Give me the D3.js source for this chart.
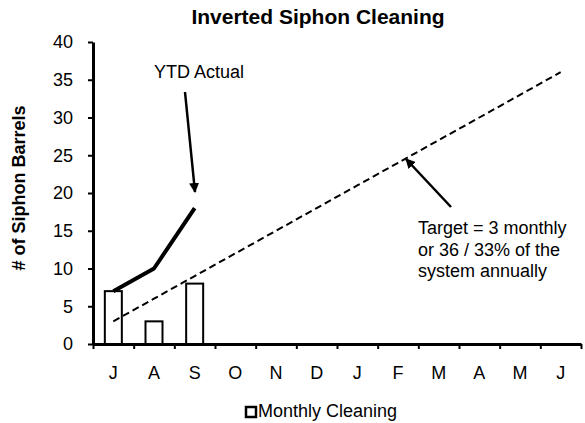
<!DOCTYPE html>
<html>
<head>
<meta charset="utf-8">
<script src="https://cdn.jsdelivr.net/npm/d3@7"></script>
<style>
  body { margin: 0; background: #fff; }
  svg text { font-family: Arial, "Liberation Sans", sans-serif; fill: #000; }
</style>
</head>
<body>
<svg class="chart" width="585" height="423"></svg>
<script>
var months = ["J", "A", "S", "O", "N", "D", "J", "F", "M", "A", "M", "J"];
var monthlyCleaning = [7, 3, 8];
var ytdActual = [7, 10, 18];
var target = [3, 6, 9, 12, 15, 18, 21, 24, 27, 30, 33, 36];
var yTicks = [0, 5, 10, 15, 20, 25, 30, 35, 40];

var margin = {top: 42, left: 93},
    width = 488,
    height = 302;

var svg = d3.select(".chart");

var g = svg.append("g")
    .attr("transform", "translate(" + margin.left + "," + margin.top + ")");

var x = d3.scaleBand()
    .domain(d3.range(months.length))
    .range([0, width]);

var xEdge = d3.scaleLinear()
    .domain([0, months.length])
    .range([0, width]);

var y = d3.scaleLinear()
    .domain([0, 40])
    .range([height, 0]);

var cx = function(i) { return x(i) + x.bandwidth() / 2; };

// title
svg.append("text")
    .attr("x", 318)
    .attr("y", 24)
    .attr("text-anchor", "middle")
    .style("font-size", "21px")
    .style("font-weight", "bold")
    .text("Inverted Siphon Cleaning");

// y axis title
svg.append("text")
    .attr("transform", "translate(25,188) rotate(-90)")
    .attr("text-anchor", "middle")
    .style("font-size", "18px")
    .style("font-weight", "bold")
    .text("# of Siphon Barrels");

// bars
var barW = 17;
g.selectAll(".bar")
    .data(monthlyCleaning)
  .enter().append("rect")
    .attr("class", "bar")
    .attr("x", function(d, i) { return cx(i) - barW / 2; })
    .attr("y", function(d) { return y(d); })
    .attr("width", barW)
    .attr("height", function(d) { return height - y(d); })
    .attr("fill", "#fff")
    .attr("stroke", "#000")
    .attr("stroke-width", 2);

// target dashed line
g.append("path")
    .datum(target)
    .attr("fill", "none")
    .attr("stroke", "#000")
    .attr("stroke-width", 2)
    .attr("stroke-dasharray", "7,4")
    .attr("d", d3.line()
        .x(function(d, i) { return cx(i); })
        .y(function(d) { return y(d); }));

// ytd line
g.append("path")
    .datum(ytdActual)
    .attr("fill", "none")
    .attr("stroke", "#000")
    .attr("stroke-width", 4)
    .attr("stroke-linejoin", "round")
    .attr("d", d3.line()
        .x(function(d, i) { return cx(i); })
        .y(function(d) { return y(d); }));

// y axis
var yAxis = g.append("g")
    .call(d3.axisLeft(y).tickValues(yTicks).tickSize(5).tickSizeOuter(0).tickPadding(15));
yAxis.select(".domain").attr("stroke-width", 3);
yAxis.selectAll(".tick line").attr("stroke-width", 2);
yAxis.selectAll(".tick text").style("font-size", "18px").style("font-family", "Arial, 'Liberation Sans', sans-serif");

// x axis: ticks at month boundaries
var xAxis = g.append("g")
    .attr("transform", "translate(0," + height + ")")
    .call(d3.axisBottom(xEdge).ticks(months.length).tickFormat("").tickSize(5).tickSizeOuter(0));
xAxis.select(".domain").attr("stroke-width", 3);
xAxis.selectAll(".tick line").attr("stroke-width", 2);

// x labels at month centres
var xLabels = g.append("g")
    .attr("transform", "translate(0," + height + ")")
    .call(d3.axisBottom(x).tickSize(0).tickPadding(22).tickFormat(function(i) { return months[i]; }));
xLabels.select(".domain").remove();
xLabels.selectAll("text").style("font-size", "18px").style("font-family", "Arial, 'Liberation Sans', sans-serif");

// annotations
var defs = svg.append("defs");
defs.append("marker")
    .attr("id", "arrow")
    .attr("viewBox", "0 0 10 10")
    .attr("refX", 9)
    .attr("refY", 5)
    .attr("markerWidth", 4)
    .attr("markerHeight", 4)
    .attr("orient", "auto")
  .append("path")
    .attr("d", "M0,0 L10,5 L0,10 z")
    .attr("fill", "#000");

svg.append("text")
    .attr("x", 154)
    .attr("y", 78)
    .style("font-size", "18px")
    .text("YTD Actual");

svg.append("line")
    .attr("x1", 185).attr("y1", 92)
    .attr("x2", 195).attr("y2", 192)
    .attr("stroke", "#000")
    .attr("stroke-width", 2.5)
    .attr("marker-end", "url(#arrow)");

svg.append("line")
    .attr("x1", 451).attr("y1", 207)
    .attr("x2", 406).attr("y2", 159)
    .attr("stroke", "#000")
    .attr("stroke-width", 2.5)
    .attr("marker-end", "url(#arrow)");

var targetText = svg.append("text")
    .attr("x", 418)
    .attr("y", 234)
    .style("font-size", "18px");
["Target = 3 monthly", "or 36 / 33% of the", "system annually"].forEach(function(s, i) {
  targetText.append("tspan")
      .attr("x", 418)
      .attr("dy", i === 0 ? 0 : 21.5)
      .text(s);
});

// legend
var legend = svg.append("g");
legend.append("rect")
    .attr("x", 246).attr("y", 407)
    .attr("width", 10).attr("height", 10)
    .attr("fill", "#fff")
    .attr("stroke", "#000")
    .attr("stroke-width", 2.5);
legend.append("text")
    .attr("x", 258)
    .attr("y", 417)
    .style("font-size", "18px")
    .text("Monthly Cleaning");
</script>
</body>
</html>
